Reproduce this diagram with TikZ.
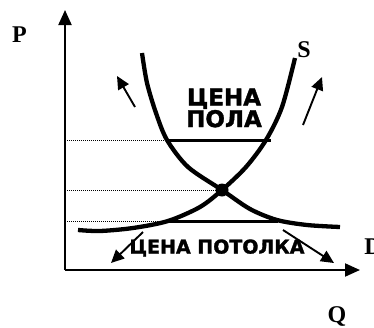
\documentclass[tikz,border=0pt]{standalone}
\usepackage{fontspec}
\setmainfont{Liberation Serif}
\newfontfamily\lblfont[FakeBold=1.6]{DejaVu Sans Bold}
\usepackage{tikz}
\usetikzlibrary{arrows.meta}
\tikzset{
  ax/.style={line width=2pt,-{Triangle[length=15pt,width=13pt]}},
  crv/.style={line width=4.3pt},
  lvl/.style={line width=3pt},
  dot/.style={densely dotted,line width=1pt},
  mv/.style={line width=1.9pt,-{Triangle[length=13pt,width=12pt]}},
  lab/.style={font=\bfseries\fontsize{24}{24}\selectfont,inner sep=0pt},
  txt/.style={align=center,inner sep=0pt}
}

\begin{document}
\begin{tikzpicture}[x=1pt,y=-1pt]
\useasboundingbox (0,0) rectangle (374,327);
% axes
\coordinate (O) at (65,270);
\coordinate (Ptop) at (65,10);
\coordinate (Qend) at (360,270);
\draw[ax] (O)--(Ptop);
\draw[ax] (O)--(Qend);
\node[lab] (P) at (19.5,35) {P};
\node[lab] (Q) at (337,316) {Q};
\node[lab] (S) at (304,50) {S};
\node[lab] (D) at (373,247) {D};
% levels
\coordinate (E) at (222,190);
\coordinate (Fl) at (167,140); \coordinate (Fr) at (271,140);
\coordinate (Cl) at (168,221); \coordinate (Cr) at (278,221);
\draw[dot] (65,140)--(Fl);
\draw[dot] (65,190)--(E);
\draw[dot] (65,221)--(Cl);
\draw[lvl] (Fl)--(Fr);
\draw[lvl] (Cl)--(Cr);
% demand and supply
\draw[crv] plot[smooth] coordinates {(142,53) (147,83) (156,113) (167,140) (188,167) (222,190) (250,209) (277,220) (307,225) (340,227)};
\draw[crv] plot[smooth] coordinates {(78,230) (100,231) (133,228) (168,221) (200,207) (222,190) (246,167) (266,140) (282,107) (295,58)};
\fill (E) circle (6.5);
% moves
\coordinate (a1) at (135,107); \coordinate (a2) at (117,76);
\coordinate (b1) at (303,125); \coordinate (b2) at (322,77);
\coordinate (c1) at (143,232); \coordinate (c2) at (111,263);
\coordinate (d1) at (283,230); \coordinate (d2) at (334,263);
\draw[mv] (a1)--(a2);
\draw[mv] (b1)--(b2);
\draw[mv] (c1)--(c2);
\draw[mv] (d1)--(d2);
% labels
\node[txt,font=\lblfont\fontsize{23}{20}\selectfont] (floor) at (224,108) {ЦЕНА\\ПОЛА};
\node[txt,font=\lblfont\fontsize{19}{19}\selectfont] (ceil) at (217,248) {ЦЕНА ПОТОЛКА};
\end{tikzpicture}
\end{document}
